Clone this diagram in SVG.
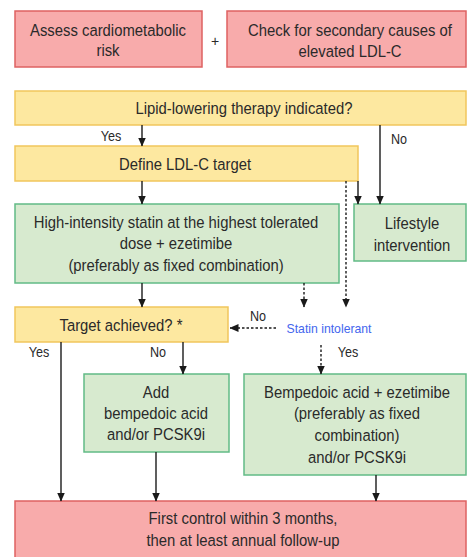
<svg xmlns="http://www.w3.org/2000/svg" width="468" height="557" viewBox="0 0 468 557">
<defs>
<style>
text{font-family:"Liberation Sans",Arial,sans-serif;font-size:16.5px;fill:#2a2a2a;text-anchor:middle;dominant-baseline:central}
.sx{transform:scale(0.9,1)}
.red{fill:#f8abab;stroke:#de6262;stroke-width:1.5}
.yel{fill:#fde8a0;stroke:#f1c65c;stroke-width:1.5}
.grn{fill:#d7eacf;stroke:#62bb86;stroke-width:1.5}
.lbl{font-size:14px}
.blue{font-size:13.6px;fill:#4466ee}
.ln{stroke:#1a1a1a;stroke-width:1.4;fill:none}
.dash{stroke:#1a1a1a;stroke-width:1.4;fill:none;stroke-dasharray:2.5 2}
</style>
<marker id="ah" markerWidth="9" markerHeight="8" refX="8.5" refY="4" orient="auto" markerUnits="userSpaceOnUse">
<path d="M0,0 L9,4 L0,8 Z" fill="#1a1a1a"/>
</marker>
</defs>
<rect width="468" height="557" fill="#ffffff"/>

<g id="assess">
<rect class="red" x="15" y="11" width="187" height="56"/>
<text class="sx" x="120" y="30">Assess cardiometabolic</text>
<text class="sx" x="120" y="50">risk</text>
</g>
<g id="plus"><text x="215" y="41" class="lbl">+</text></g>
<g id="secondary">
<rect class="red" x="227" y="11" width="239" height="56"/>
<text class="sx" x="388.9" y="30">Check for secondary causes of</text>
<text class="sx" x="388.9" y="51">elevated LDL-C</text>
</g>
<g id="indicated">
<rect class="yel" x="15" y="91" width="451" height="34"/>
<text class="sx" x="271.1" y="108">Lipid-lowering therapy indicated?</text>
</g>
<g id="define">
<rect class="yel" x="15" y="146" width="343" height="35"/>
<text class="sx" x="205.6" y="164">Define LDL-C target</text>
</g>
<g id="statin">
<rect class="grn" x="15" y="204" width="324" height="79"/>
<text class="sx" x="195.6" y="222">High-intensity statin at the highest tolerated</text>
<text class="sx" x="195.6" y="243">dose + ezetimibe</text>
<text class="sx" x="195.6" y="265">(preferably as fixed combination)</text>
</g>
<g id="lifestyle">
<rect class="grn" x="354" y="204" width="112" height="57"/>
<text class="sx" x="457.8" y="223">Lifestyle</text>
<text class="sx" x="457.8" y="245">intervention</text>
</g>
<g id="target">
<rect class="yel" x="15" y="307" width="213" height="35"/>
<text class="sx" x="134.4" y="325">Target achieved? *</text>
</g>
<g id="intolerant">
<text x="365.6" y="328" class="sx blue">Statin intolerant</text>
</g>
<g id="add">
<rect class="grn" x="84" y="374" width="145" height="78"/>
<text class="sx" x="173.3" y="392">Add</text>
<text class="sx" x="173.3" y="413">bempedoic acid</text>
<text class="sx" x="173.3" y="434">and/or PCSK9i</text>
</g>
<g id="bempedoic">
<rect class="grn" x="244" y="374" width="222" height="101"/>
<text class="sx" x="396.7" y="392">Bempedoic acid + ezetimibe</text>
<text class="sx" x="396.7" y="413">(preferably as fixed</text>
<text class="sx" x="396.7" y="435">combination)</text>
<text class="sx" x="396.7" y="457">and/or PCSK9i</text>
</g>
<g id="followup">
<rect class="red" x="15" y="501" width="451" height="62"/>
<text class="sx" x="270" y="518">First control within 3 months,</text>
<text class="sx" x="270" y="540">then at least annual follow-up</text>
</g>

<g id="connectors">
<path class="ln" d="M142,125 V146" marker-end="url(#ah)"/>
<path class="ln" d="M380,125 V204" marker-end="url(#ah)"/>
<path class="ln" d="M142,181 V204" marker-end="url(#ah)"/>
<path class="ln" d="M358,181 V204" marker-end="url(#ah)"/>
<path class="dash" d="M346,181 V307" marker-end="url(#ah)"/>
<path class="ln" d="M142,283 V307" marker-end="url(#ah)"/>
<path class="dash" d="M304,283 V307" marker-end="url(#ah)"/>
<path class="dash" d="M276,328 H230" marker-end="url(#ah)"/>
<path class="dash" d="M321,345 V374" marker-end="url(#ah)"/>
<path class="ln" d="M61,342 V501" marker-end="url(#ah)"/>
<path class="ln" d="M183,342 V374" marker-end="url(#ah)"/>
<path class="ln" d="M156,452 V501" marker-end="url(#ah)"/>
<path class="ln" d="M376,475 V501" marker-end="url(#ah)"/>
<text x="123.3" y="136" class="sx lbl">Yes</text>
<text x="443.3" y="139" class="sx lbl">No</text>
<text x="286.7" y="316" class="sx lbl">No</text>
<text x="386.7" y="352" class="sx lbl">Yes</text>
<text x="43.3" y="352" class="sx lbl">Yes</text>
<text x="175.6" y="352" class="sx lbl">No</text>
</g>
</svg>
